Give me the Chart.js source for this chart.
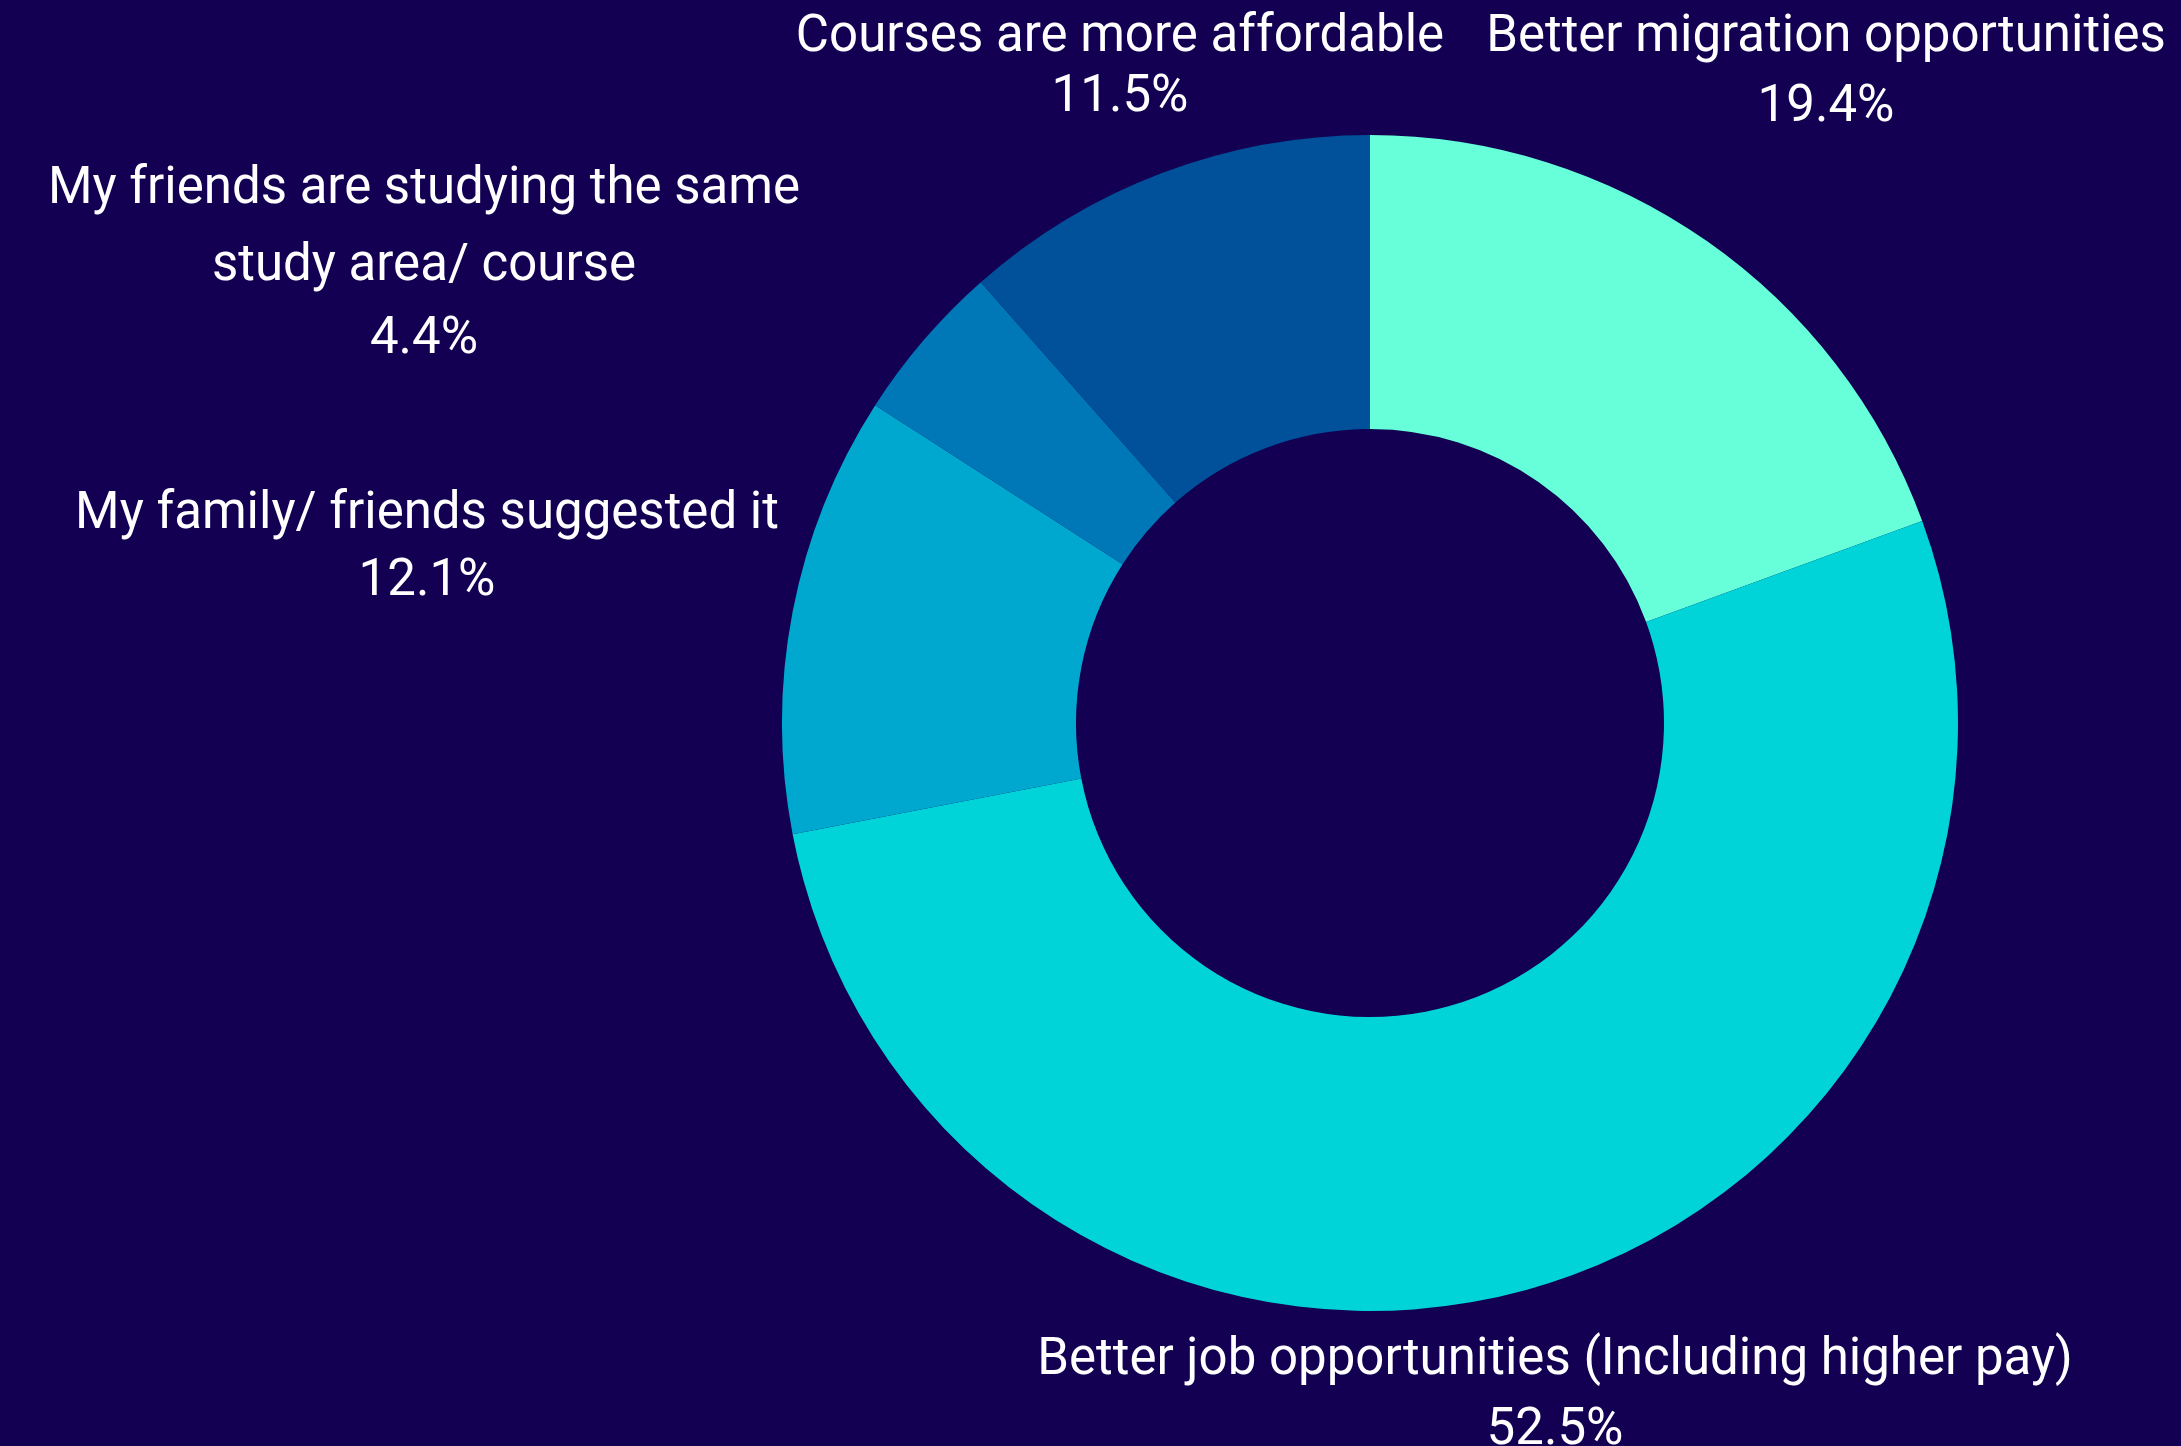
<!DOCTYPE html>
<html>
<head>
<meta charset="utf-8">
<script src="https://cdn.jsdelivr.net/npm/chart.js@4.4.1/dist/chart.umd.min.js"></script>
<style>
html,body{margin:0;padding:0;background:#130052;}
#wrap{width:2181px;height:1446px;position:relative;}
</style>
</head>
<body>
<div id="wrap"><canvas id="c" width="2181" height="1446"></canvas></div>
<script>
const categories = [
  "Better migration opportunities",
  "Better job opportunities (Including higher pay)",
  "My family/ friends suggested it",
  "My friends are studying the same study area/ course",
  "Courses are more affordable"
];
const values = [19.4, 52.5, 12.1, 4.4, 11.5];
const valueLabels = ["19.4%", "52.5%", "12.1%", "4.4%", "11.5%"];
const labelLines = [
  ["Better migration opportunities"],
  ["Better job opportunities (Including higher pay)"],
  ["My family/ friends suggested it"],
  ["My friends are studying the same", "study area/ course"],
  ["Courses are more affordable"]
];
const colors = ["#66FFD9", "#00D4D8", "#00A8D0", "#0078B8", "#00509A"];

// label anchor offsets from chart centre (px): x, first-line y, line gap, percent y
const labelLayout = [
  {dx: 456, dy: -685, gap: 0, py: -615},
  {dx: 185, dy: 638, gap: 0, py: 708},
  {dx: -943, dy: -208, gap: 0, py: -141},
  {dx: -946, dy: -533, gap: 77, py: -383},
  {dx: -250, dy: -685, gap: 0, py: -625}
];

const labelPlugin = {
  id: 'outerLabels',
  afterDatasetsDraw(chart) {
    const ctx = chart.ctx;
    const arc = chart.getDatasetMeta(0).data[0];
    const cx = arc.x, cy = arc.y;
    ctx.save();
    ctx.fillStyle = '#ffffff';
    ctx.textAlign = 'center';
    ctx.textBaseline = 'middle';
    ctx.font = '51px Roboto';
    labelLines.forEach((lines, i) => {
      const L = labelLayout[i];
      lines.forEach((t, j) => {
        ctx.fillText(t, cx + L.dx, cy + L.dy + j * L.gap);
      });
      ctx.fillText(valueLabels[i], cx + L.dx, cy + L.py);
    });
    ctx.restore();
  }
};

new Chart(document.getElementById('c'), {
  type: 'doughnut',
  data: {
    labels: categories,
    datasets: [{
      data: values,
      backgroundColor: colors,
      borderWidth: 0
    }]
  },
  options: {
    responsive: false,
    animation: false,
    cutout: '50%',
    layout: {padding: {left: 782, right: 223, top: 135, bottom: 135}},
    plugins: {legend: {display: false}, tooltip: {enabled: false}}
  },
  plugins: [labelPlugin]
});
</script>
</body>
</html>
